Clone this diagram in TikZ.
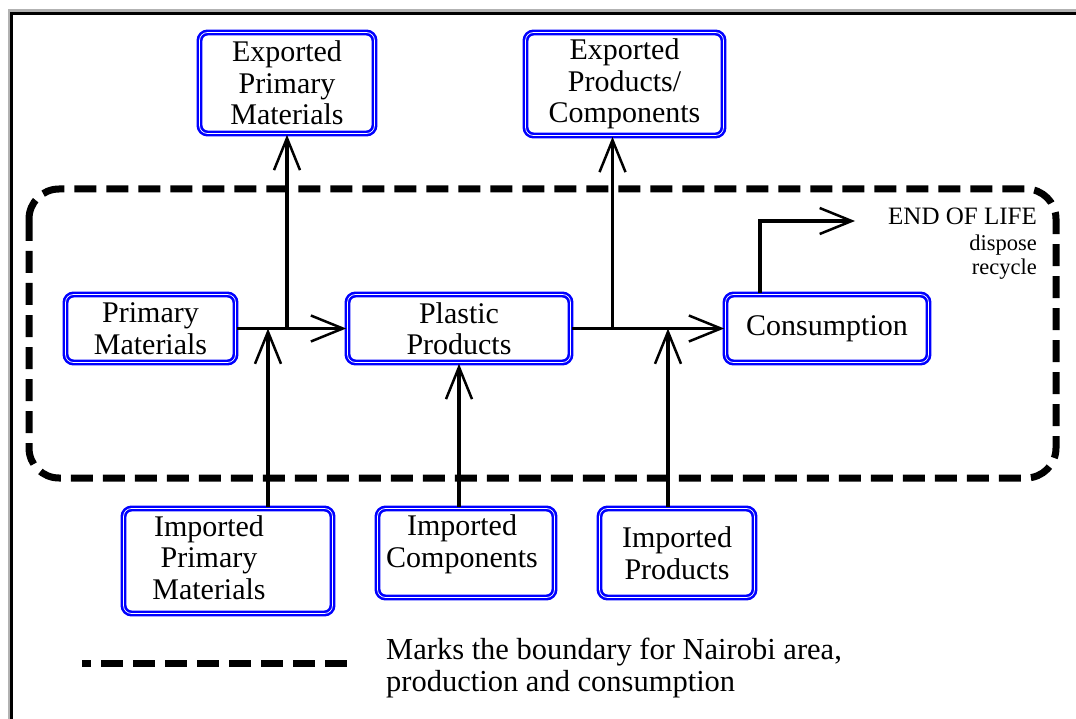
\documentclass[tikz,border=0pt]{standalone}
\usepackage{fontspec}
\setmainfont{Liberation Serif}
\usetikzlibrary{arrows.meta}
\tikzset{
  box/.style={draw=blue, double=white, double distance=0.7pt, line width=2.6pt,
    rounded corners=8pt, align=center, inner sep=0pt,
    font=\fontsize{30}{31.5}\selectfont},
  conn/.style={draw=black, line width=3.2pt,
    -{Straight Barb[length=32pt,width=26pt,line width=2.5pt]}},
  boundary/.style={draw=black, line width=7pt, dash pattern=on 22pt off 10pt},
  smalltext/.style={inner sep=0pt, font=\fontsize{22.5}{24}\selectfont},
}
\begin{document}
\begin{tikzpicture}[x=1pt,y=-1pt]
\useasboundingbox (0,0) rectangle (1076,719);
\clip (0,0) rectangle (1076,719);
\fill[white] (0,0) rectangle (1076,719);
% frame
\draw[black!30, line width=3pt] (9,740) -- (9,10.5) -- (1100,10.5);
\draw[black, line width=3pt] (11.5,740) -- (11.5,13.5) -- (1100,13.5);

% boundary
\draw[boundary, rounded corners=30pt] (29,189) rectangle (1056,478);

% boxes
\node[box, minimum width=175pt, minimum height=101pt] (epm) at (287,83) {Exported\\Primary\\Materials};
\node[box, minimum width=198pt, minimum height=103pt] (epc) at (624.5,84) {Exported\\Products/\\Components};
\node[box, minimum width=170pt, minimum height=68pt] (pm) at (150.5,328.5) {Primary\\Materials};
\node[box, minimum width=223pt, minimum height=68pt] (pp) at (459,328.5) {Plastic\\Products};
\node[box, minimum width=203pt, minimum height=68pt] (cons) at (827,328.5) {Consumption};
\node[box, minimum width=209pt, minimum height=105pt, text depth=9pt] (ipm) at (228,561)
  {\begin{tabular}[b]{@{}c@{}}Imported\\Primary\\Materials\end{tabular}\hspace*{38pt}};
\node[box, minimum width=177pt, minimum height=89pt, text depth=25.5pt] (ic) at (466,553)
  {\begin{tabular}[b]{@{}c@{}}Imported\\Components\end{tabular}\hspace*{8pt}};
\node[box, minimum width=155pt, minimum height=89pt] (ip) at (677,553) {Imported\\Products};

% end of life
\coordinate (eol) at (855,221);
\node[smalltext, anchor=base east, font=\fontsize{25}{26}\selectfont] (eoltext) at (1037,225) {END OF LIFE};
\node[smalltext, anchor=base east] (dispose) at (1037,251) {dispose};
\node[smalltext, anchor=base east] (recycle) at (1037,275) {recycle};

% connectors
\draw[conn] (pm.east) -- (pp.west);
\draw[conn] (epm.south |- pm.east) -- (epm.south);
\draw[conn] ([xshift=40pt]ipm.north) -- ([xshift=40pt]ipm.north |- pm.east);
\draw[conn] (pp.south |- ic.north) -- (pp.south);
\draw[conn] (pp.east) -- (cons.west);
\draw[conn] ([xshift=-12pt]epc.south |- pp.east) -- ([xshift=-12pt]epc.south);
\draw[conn] ([xshift=-9pt]ip.north) -- ([xshift=-9pt]ip.north |- pp.east);
\draw[conn] ([xshift=-67pt]cons.north) |- (eol);

% legend
\coordinate (lg1) at (82,663);
\coordinate (lg2) at (352,663);
\draw[boundary, dash pattern=on 9pt off 10pt on 22pt off 10pt on 22pt off 10pt on 22pt off 10pt on 22pt off 10pt on 22pt off 10pt on 22pt off 10pt on 22pt off 10pt on 22pt off 10pt on 9pt off 30pt] (lg1) -- (lg2);
\node[anchor=base west, inner sep=0pt, align=left, font=\fontsize{30.5}{32}\selectfont] (legend) at (386,691)
  {Marks the boundary for Nairobi area,\\production and consumption};
\end{tikzpicture}
\end{document}
